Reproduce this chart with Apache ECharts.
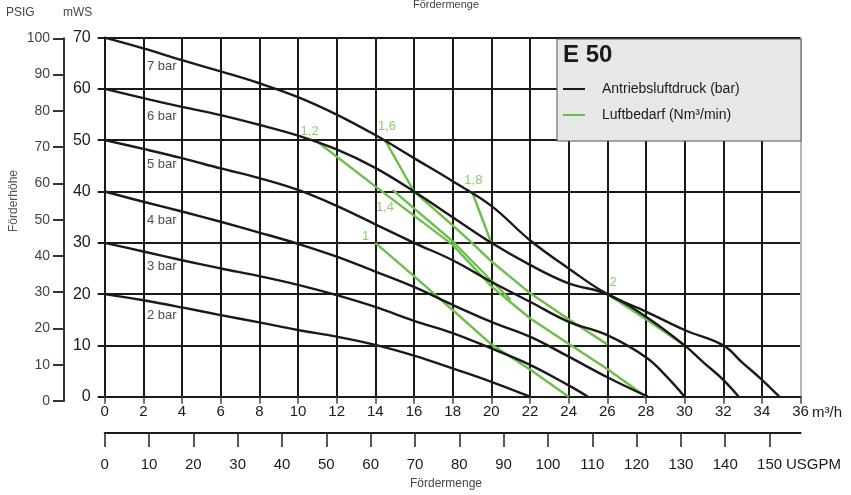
<!DOCTYPE html>
<html>
<head>
<meta charset="utf-8">
<title>E 50 Kennlinie</title>
<script src="https://cdn.jsdelivr.net/npm/echarts@6/dist/echarts.min.js"></script>
<style>
  html, body { margin: 0; padding: 0; background: #fff; }
  #chart { width: 851px; height: 495px; }
</style>
</head>
<body>
<div id="chart"></div>
<script>
// Antriebsluftdruck curves, [m3/h, mWS]
const bar7 = [[0,70],[2,67.9],[4,65.6],[6,63.4],[8,61.1],[10,58.4],[12,55],[14,51],[16,46.5],[18,42],[20,37.2],[22,30.5],[24,25],[26,20],[28,16.6],[30,13],[32,10],[33,6.6],[34,3.3],[34.9,0]];
const bar6 = [[0,60],[2,58.2],[4,56.5],[6,54.9],[8,53],[10,50.9],[12,48.2],[14,44.6],[16,40],[18,35],[20,30],[22,25.7],[24,22.1],[26,20],[28,15.6],[30,10],[31,6.6],[32,3.3],[32.8,0]];
const bar5 = [[0,50],[2,48.3],[4,46.5],[6,44.5],[8,42.6],[10,40.3],[12,37.2],[14,33.6],[16,30],[18,26.6],[20,22.4],[22,18.5],[24,14.6],[26,12],[28,7.7],[29,4.2],[30,0]];
const bar4 = [[0,40],[2,38],[4,36.1],[6,34.1],[8,32],[10,29.8],[12,27.3],[14,24.4],[16,21.4],[18,17.9],[20,14.6],[22,11.7],[24,7.8],[26,3.8],[28.1,0]];
const bar3 = [[0,30],[2,28.3],[4,26.6],[6,25],[8,23.5],[10,21.8],[12,19.8],[14,17.5],[16,14.8],[18,12.4],[20,9.4],[22,6.2],[24,2.2],[25,0]];
const bar2 = [[0,20],[2,18.8],[4,17.4],[6,15.9],[8,14.5],[10,13],[12,11.7],[14,10.1],[16,8],[18,5.5],[20,2.9],[22,0]];

// Luftbedarf lines (Nm3/min)
const air10 = [[14,30],[16,23.5],[18,16.9],[20,10.2],[22,5.3],[24,0]];
const air12 = [[11,49.7],[14,41],[16,35.3],[18,29.6],[20,21.5],[22,15.3],[24,10.3],[26,5.4],[28,0]];
const air14 = [[14.9,40.3],[16,36.7],[18,30.3],[20,22.6],[21,18.9]];
const air16 = [[14.5,50],[16,40],[18,33.4],[19,30],[20,26.4],[22,20.2],[24,15.1],[26,10.2]];
const air18 = [[19,40],[20,30]];
const air20 = [[26,20],[28,15.1],[30,10]];

// annotations
const barNames = ['7 bar', '6 bar', '5 bar', '4 bar', '3 bar', '2 bar'];
const barNamePos = [[2.95,64.3],[2.95,54.7],[2.95,45.2],[2.95,34.4],[2.95,25.3],[2.95,15.9]];
const airNames = ['1', '1,2', '1,4', '1,6', '1,8', '2'];
const airNamePos = [[13.5,31.2],[10.6,51.8],[14.5,36.9],[14.6,52.6],[19.07,42.2],[26.3,22.2]];

// second flow scale
const usgpmTicks = [0,10,20,30,40,50,60,70,80,90,100,110,120,130,140,150];
const usgpmMax = 157;

const helv = "'Liberation Sans', Arial, sans-serif";
const black = '#1a1a1a';
const green = '#6cc04a';
const pressureName = 'Antriebsluftdruck (bar)';
const airName = 'Luftbedarf (Nm³/min)';

const chart = echarts.init(document.getElementById('chart'));

function curve(name, data, color, smooth) {
  return {
    type: 'line',
    name: name,
    xAxisIndex: 0,
    yAxisIndex: 0,
    data: data,
    symbol: 'none',
    smooth: smooth,
    silent: true,
    lineStyle: { color: color, width: 2.4 },
    itemStyle: { color: color },
  };
}

function labels(names, pos, color) {
  return {
    type: 'scatter',
    name: 'labels',
    xAxisIndex: 0,
    yAxisIndex: 0,
    silent: true,
    symbolSize: 1,
    itemStyle: { color: 'rgba(0,0,0,0)' },
    data: pos.map((p, i) => ({ value: p, name: names[i] })),
    label: {
      show: true,
      position: 'inside',
      formatter: '{b}',
      fontFamily: helv,
      fontSize: 13,
      color: color,
    },
  };
}

const xSplitColors = [];
for (let v = 0; v <= 36; v += 2) xSplitColors.push(v === 36 ? '#b5b5b5' : black);

const option = {
  animation: false,
  backgroundColor: '#fff',
  title: {
    text: 'E 50',
    left: 563,
    top: 43,
    padding: 0,
    z: 60,
    textStyle: { fontFamily: helv, fontSize: 24, fontWeight: 'bold', color: black },
  },
  legend: {
    data: [pressureName, airName],
    orient: 'vertical',
    left: 563,
    top: 82,
    padding: 0,
    itemGap: 12,
    itemWidth: 22,
    itemHeight: 2,
    icon: 'rect',
    selectedMode: false,
    z: 60,
    textStyle: { fontFamily: helv, fontSize: 14, color: black, lineHeight: 14, padding: [0, 0, 0, 12] },
  },
  grid: [
    { left: 104.7, right: 50.4, top: 37.6, bottom: 98.3, outerBoundsMode: 'none' },
    { left: 64, width: 1, top: 38.3, bottom: 94, outerBoundsMode: 'none' },
    { left: 104.7, right: 50.4, top: 432, height: 1, outerBoundsMode: 'none' },
  ],
  xAxis: [
    {
      type: 'value',
      gridIndex: 0,
      min: 0,
      max: 36,
      interval: 2,
      axisLine: { lineStyle: { color: black, width: 2 } },
      axisTick: { length: 7, lineStyle: { color: '#444', width: 1.5 } },
      axisLabel: { margin: 8, fontFamily: helv, fontSize: 15, color: black },
      splitLine: { show: true, lineStyle: { color: xSplitColors, width: 2 } },
    },
    { type: 'value', gridIndex: 1, show: false },
    {
      type: 'value',
      gridIndex: 2,
      min: 0,
      max: usgpmMax,
      position: 'bottom',
      axisLine: { lineStyle: { color: black, width: 2 } },
      axisTick: { customValues: usgpmTicks, length: 14, lineStyle: { color: '#222', width: 1.5 } },
      axisLabel: { customValues: usgpmTicks, margin: 24, fontFamily: helv, fontSize: 15, color: black },
      splitLine: { show: false },
    },
  ],
  yAxis: [
    {
      type: 'value',
      gridIndex: 0,
      min: 0,
      max: 70,
      interval: 10,
      axisLine: { show: true, lineStyle: { color: black, width: 2 } },
      axisTick: { show: true, length: 7, lineStyle: { color: black, width: 2 } },
      axisLabel: { margin: 14, fontFamily: helv, fontSize: 16, color: black },
      splitLine: { show: true, lineStyle: { color: black, width: 2 } },
    },
    {
      type: 'value',
      gridIndex: 1,
      min: 0,
      max: 100,
      interval: 10,
      axisLine: { show: true, lineStyle: { color: '#333', width: 2 } },
      axisTick: { show: true, length: 11, lineStyle: { color: '#333', width: 2 } },
      axisLabel: { margin: 14, fontFamily: helv, fontSize: 14, color: '#444' },
      splitLine: { show: false },
    },
    { type: 'value', gridIndex: 2, show: false },
  ],
  series: [
    curve(airName, air10, green, false),
    curve(airName, air12, green, false),
    curve(airName, air14, green, false),
    curve(airName, air16, green, false),
    curve(airName, air18, green, false),
    curve(airName, air20, green, false),
    curve(pressureName, bar7, black, 0.4),
    curve(pressureName, bar6, black, 0.4),
    curve(pressureName, bar5, black, 0.4),
    curve(pressureName, bar4, black, 0.4),
    curve(pressureName, bar3, black, 0.4),
    curve(pressureName, bar2, black, 0.4),
    labels(barNames, barNamePos, black),
    labels(airNames, airNamePos, green),
  ],
  graphic: [
    {
      type: 'rect',
      z: 50,
      shape: { x: 557, y: 39, width: 244, height: 102 },
      style: { fill: '#e6e7e8', stroke: '#555', lineWidth: 1 },
    },
    { type: 'text', x: 6, y: 13, style: { text: 'PSIG', font: '12px ' + helv, fill: '#444', textVerticalAlign: 'middle' } },
    { type: 'text', x: 63, y: 13, style: { text: 'mWS', font: '12px ' + helv, fill: '#444', textVerticalAlign: 'middle' } },
    {
      type: 'text', x: 14, y: 201, rotation: Math.PI / 2,
      style: { text: 'Förderhöhe', font: '12px ' + helv, fill: '#555', textAlign: 'center', textVerticalAlign: 'middle' },
    },
    { type: 'text', x: 446, y: 5, style: { text: 'Fördermenge', font: '11px ' + helv, fill: '#444', textAlign: 'center', textVerticalAlign: 'middle' } },
    { type: 'text', x: 446, y: 484, style: { text: 'Fördermenge', font: '12px ' + helv, fill: '#444', textAlign: 'center', textVerticalAlign: 'middle' } },
    { type: 'text', x: 812, y: 413, style: { text: 'm³/h', font: '15px ' + helv, fill: black, textVerticalAlign: 'middle' } },
    { type: 'text', x: 786, y: 465, style: { text: 'USGPM', font: '15px ' + helv, fill: black, textVerticalAlign: 'middle' } },
  ],
};

chart.setOption(option);
</script>
</body>
</html>
